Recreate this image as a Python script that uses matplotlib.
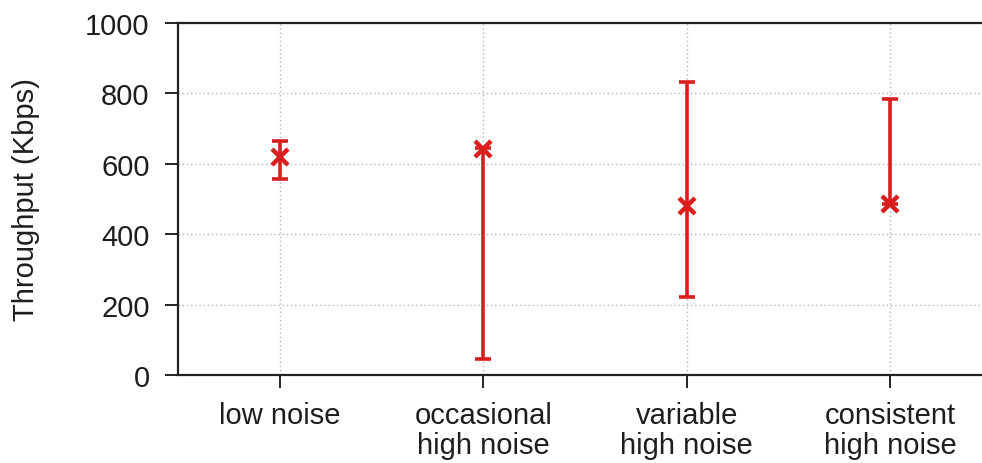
import matplotlib
matplotlib.use("Agg")
import matplotlib.pyplot as plt
import numpy as np

categories = ["low noise", "occasional\nhigh noise", "variable\nhigh noise", "consistent\nhigh noise"]
mean_vals = [619, 642, 481, 486]
low_vals = [557, 45, 222, 486]
high_vals = [665, 645, 833, 784]
y_ticks = [0, 200, 400, 600, 800, 1000]

plt.rcParams['font.family'] = ['Liberation Sans', 'DejaVu Sans']
text_color = '#1e1e1e'
red = '#d91e1e'

fig = plt.figure(figsize=(9.82, 4.64), dpi=100)
ax = fig.add_axes([178/982, 88/464, 814/982, 352/464])

x = np.arange(1, len(categories) + 1)
mean = np.array(mean_vals)
yerr = np.array([mean - np.array(low_vals), np.array(high_vals) - mean])
ax.errorbar(x, mean, yerr=yerr, fmt='none', ecolor=red, elinewidth=2.6,
            capsize=6, capthick=2.6, zorder=3)
ax.plot(x, mean, linestyle='none', marker='x', markersize=12, markeredgewidth=3.2,
        color=red, zorder=4)

ax.set_xlim(0.5, 4.5)
ax.set_ylim(0, 1000)
ax.set_yticks(y_ticks)
ax.set_xticks(x)
ax.set_xticklabels(categories, linespacing=1.1)

for s in ['left', 'bottom', 'top']:
    ax.spines[s].set_linewidth(1.6)
    ax.spines[s].set_color('#222222')
ax.spines['right'].set_visible(False)

ax.tick_params(axis='both', direction='out', length=9.5, width=1.4, color='#222222',
               labelsize=21, labelcolor=text_color)
ax.tick_params(axis='y', pad=11)
ax.tick_params(axis='x', pad=9)

ax.grid(True, linestyle=(0, (1, 2)), color='#b5b5b5', linewidth=1.0, zorder=0)
ax.set_axisbelow(True)

ax.set_ylabel("Throughput (Kbps)", fontsize=21, color=text_color)
ax.yaxis.set_label_coords(-0.17, 0.5)

fig.savefig("out.png", dpi=100)
